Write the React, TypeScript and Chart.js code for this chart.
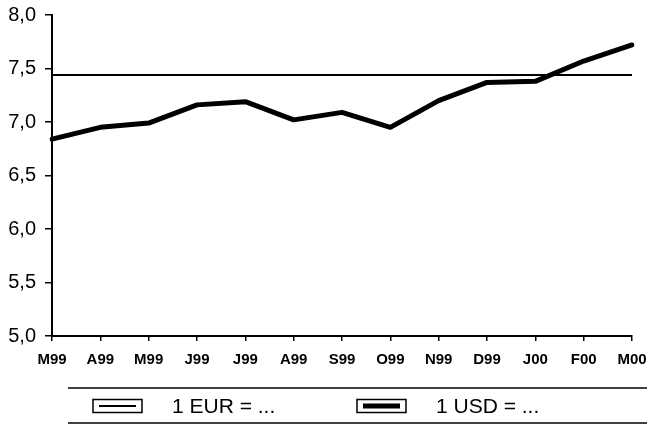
import React, { useEffect, useRef } from "react";
import { Chart, registerables } from "chart.js";

Chart.register(...registerables);

// Monthly exchange rates, DKK per unit (March 1999 – March 2000)
const months = ["M99", "A99", "M99", "J99", "J99", "A99", "S99", "O99", "N99", "D99", "J00", "F00", "M00"];
const eurRate = [7.44, 7.44, 7.44, 7.44, 7.44, 7.44, 7.44, 7.44, 7.44, 7.44, 7.44, 7.44, 7.44];
const usdRate = [6.84, 6.95, 6.99, 7.16, 7.19, 7.02, 7.09, 6.95, 7.2, 7.37, 7.38, 7.57, 7.72];
const yTicks = [5.0, 5.5, 6.0, 6.5, 7.0, 7.5, 8.0];
const seriesLabels = ["1 EUR = ...", "1 USD = ..."];

const FONT = "'Liberation Sans', Arial, Helvetica, sans-serif";

// Legend drawn beneath the axis, framed by two horizontal rules
const ruledLegend = {
  id: "ruledLegend",
  afterDraw(chart: Chart) {
    const ctx = chart.ctx;
    const w = chart.width;
    const ruleTop = 388;
    const ruleBottom = 423;
    const rowY = 406;
    ctx.save();
    ctx.strokeStyle = "#000";
    ctx.lineWidth = 1.5;
    ctx.beginPath();
    ctx.moveTo(68, ruleTop);
    ctx.lineTo(w, ruleTop);
    ctx.moveTo(68, ruleBottom);
    ctx.lineTo(w, ruleBottom);
    ctx.stroke();

    const itemX = [93, 357];
    chart.data.datasets.forEach((ds: any, i: number) => {
      const x = itemX[i];
      const bw = 49;
      const bh = 13;
      ctx.lineWidth = 1.5;
      ctx.strokeStyle = "#000";
      ctx.strokeRect(x, rowY - bh / 2, bw, bh);
      ctx.beginPath();
      ctx.lineWidth = ds.borderWidth;
      ctx.moveTo(x + 6, rowY);
      ctx.lineTo(x + bw - 6, rowY);
      ctx.stroke();
      ctx.fillStyle = "#000";
      ctx.font = `21px ${FONT}`;
      ctx.textBaseline = "middle";
      ctx.textAlign = "left";
      ctx.fillText(ds.label, x + 79, rowY + 1);
    });
    ctx.restore();
  },
};

export default function App() {
  const ref = useRef<HTMLCanvasElement | null>(null);

  useEffect(() => {
    document.body.style.margin = "0";
    const canvas = ref.current;
    if (!canvas) return;
    const chart = new Chart(canvas, {
      type: "line",
      data: {
        labels: months,
        datasets: [
          {
            label: seriesLabels[0],
            data: eurRate,
            borderColor: "#000",
            borderWidth: 2,
            pointRadius: 0,
            tension: 0,
          },
          {
            label: seriesLabels[1],
            data: usdRate,
            borderColor: "#000",
            borderWidth: 5,
            pointRadius: 0,
            tension: 0,
            borderJoinStyle: "round",
            borderCapStyle: "round",
          },
        ],
      },
      options: {
        animation: false,
        responsive: false,
        maintainAspectRatio: false,
        layout: { padding: { top: 15, right: 15, left: 0, bottom: 0 } },
        plugins: {
          legend: { display: false },
          tooltip: { enabled: false },
        },
        scales: {
          x: {
            offset: false,
            border: { display: true, color: "#000", width: 2 },
            grid: { drawOnChartArea: false, drawTicks: true, tickLength: 5, color: "#000", lineWidth: 1.5 },
            ticks: {
              color: "#000",
              font: { family: FONT, size: 15, weight: "bold" },
              padding: 10,
              maxRotation: 0,
              autoSkip: false,
            },
            afterFit(scale: any) {
              scale.height = 89;
              scale.paddingLeft = 0;
              scale.paddingRight = 0;
            },
          },
          y: {
            min: 5,
            max: 8,
            border: { display: true, color: "#000", width: 2 },
            grid: { drawOnChartArea: false, drawTicks: true, tickLength: 7, color: "#000", lineWidth: 1.5 },
            afterBuildTicks(scale: any) {
              scale.ticks = yTicks.map((v) => ({ value: v }));
            },
            ticks: {
              color: "#000",
              font: { family: FONT, size: 20 },
              padding: 9,
              callback: (v: any) => Number(v).toFixed(1).replace(".", ","),
            },
            afterFit(scale: any) {
              scale.width = 52;
              scale.paddingTop = 0;
              scale.paddingBottom = 0;
            },
          },
        },
      },
      plugins: [ruledLegend],
    });
    return () => chart.destroy();
  }, []);

  return <canvas ref={ref} width={647} height={425} style={{ display: "block" }} />;
}
